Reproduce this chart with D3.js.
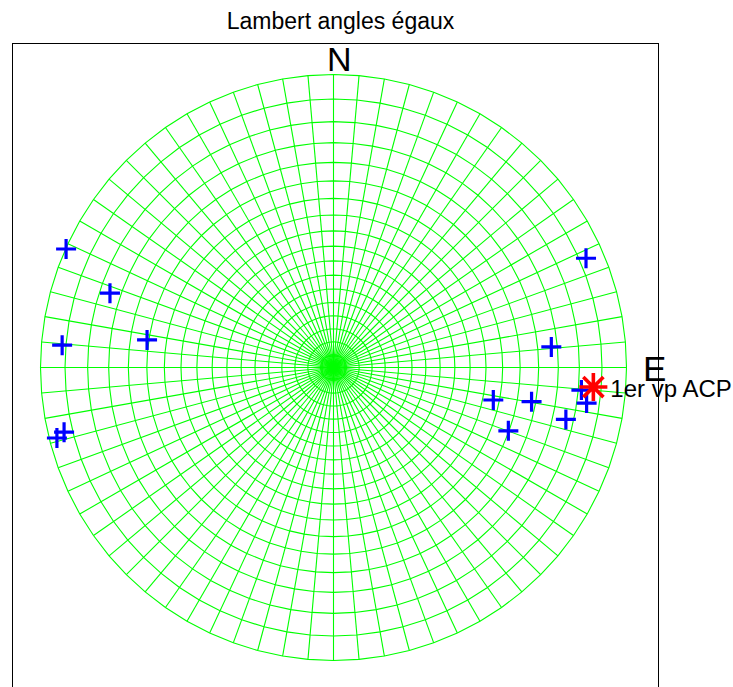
<!DOCTYPE html>
<html>
<head>
<meta charset="utf-8">
<script src="https://cdn.jsdelivr.net/npm/d3@7"></script>
<style>
  html, body { margin: 0; padding: 0; background: #fff; }
  svg { display: block; font-family: "Liberation Sans", Arial, Helvetica, sans-serif; }
</style>
</head>
<body>
<svg id="chart" width="733" height="687"></svg>
<script>
// Poles (azimuth clockwise from north, plunge in degrees), lower hemisphere
const poleAzimuth = [293.9, 288.4, 274.7, 278.4, 255.7, 256.5, 66.6, 84.6, 101.5, 99.8, 109.9, 102.6, 95.2, 98.0];
const polePlunge  = [0.1, 12.4, 4.2, 24.5, 1.5, 3.2, 3.6, 16.5, 31.8, 21.1, 25.2, 11.8, 9.3, 7.8];

// First principal component direction
const pcaAzimuth = [94.3];
const pcaPlunge  = [6.7];
const pcaLabel   = "1er vp ACP";

// Net grid: azimuth spokes and plunge circles (degrees)
const gridAzimuths = d3.range(0, 360, 5);
const gridPlunges  = d3.range(0, 90, 5);

const titleText = "Lambert angles égaux";
const northLabel = "N";
const eastLabel = "E";

const width = 733, height = 687;
const cx = 333.5, cy = 367.5, R = 293;

const svg = d3.select("#chart");
const rad = d3.scaleLinear().domain([0, 180]).range([0, Math.PI]);

// Equal-angle (stereographic) distance from centre for a given plunge
const rScale = d3.scaleLinear().domain([0, 1]).range([0, R]);
const radiusOf = p => rScale(Math.tan(rad((90 - p) / 2)));
const project = (az, p) => {
  const r = radiusOf(p), a = rad(az);
  return [cx + r * Math.sin(a), cy - r * Math.cos(a)];
};

// Axes box
svg.append("rect")
  .attr("x", 12.5).attr("y", 43.5)
  .attr("width", 646).attr("height", 700)
  .attr("fill", "none").attr("stroke", "#000").attr("stroke-width", 1);

// Title
svg.append("text")
  .attr("x", 340.5).attr("y", 28.5)
  .attr("text-anchor", "middle")
  .attr("font-size", 23)
  .attr("fill", "#000")
  .text(titleText);

const grid = svg.append("g")
  .attr("fill", "none")
  .attr("stroke", "#00ff00")
  .attr("stroke-width", 1.1);

// Azimuth spokes
grid.selectAll("line.spoke")
  .data(gridAzimuths)
  .join("line")
  .attr("class", "spoke")
  .attr("x1", cx).attr("y1", cy)
  .attr("x2", d => project(d, 0)[0])
  .attr("y2", d => project(d, 0)[1]);

// Plunge circles as polygons through the spokes
const ring = d3.lineRadial()
  .angle(d => rad(d.az))
  .radius(d => radiusOf(d.p))
  .curve(d3.curveLinearClosed);

grid.selectAll("path.ring")
  .data(gridPlunges)
  .join("path")
  .attr("class", "ring")
  .attr("transform", `translate(${cx},${cy})`)
  .attr("d", p => ring(gridAzimuths.map(az => ({ az, p }))));

// Cardinal labels
svg.append("text")
  .attr("x", 327).attr("y", 71)
  .attr("font-size", 34)
  .attr("fill", "#000")
  .text(northLabel);
svg.append("text")
  .attr("x", 643).attr("y", 381)
  .attr("font-size", 35)
  .attr("fill", "#000")
  .text(eastLabel);

// Poles as '+' markers
const poles = poleAzimuth.map((az, i) => project(az, polePlunge[i]));
const half = 10;
svg.append("g")
  .attr("stroke", "#0000ff")
  .attr("stroke-width", 3.2)
  .selectAll("path")
  .data(poles)
  .join("path")
  .attr("d", ([x, y]) => `M${x - half},${y}H${x + half}M${x},${y - half}V${y + half}`);

// Principal component as '*' marker with its label
const pca = pcaAzimuth.map((az, i) => project(az, pcaPlunge[i]));
const s = 14, sd = s * 0.72;
const pcaG = svg.append("g");
pcaG.selectAll("path")
  .data(pca)
  .join("path")
  .attr("stroke", "#ff0000")
  .attr("stroke-width", 3.6)
  .attr("fill", "none")
  .attr("d", ([x, y]) =>
    `M${x - s},${y}H${x + s}M${x},${y - s}V${y + s}` +
    `M${x - sd},${y - sd}L${x + sd},${y + sd}M${x - sd},${y + sd}L${x + sd},${y - sd}`);
pcaG.selectAll("text")
  .data(pca)
  .join("text")
  .attr("x", d => d[0] + 17)
  .attr("y", d => d[1] + 10)
  .attr("font-size", 24)
  .attr("fill", "#000")
  .text(pcaLabel);
</script>
</body>
</html>
